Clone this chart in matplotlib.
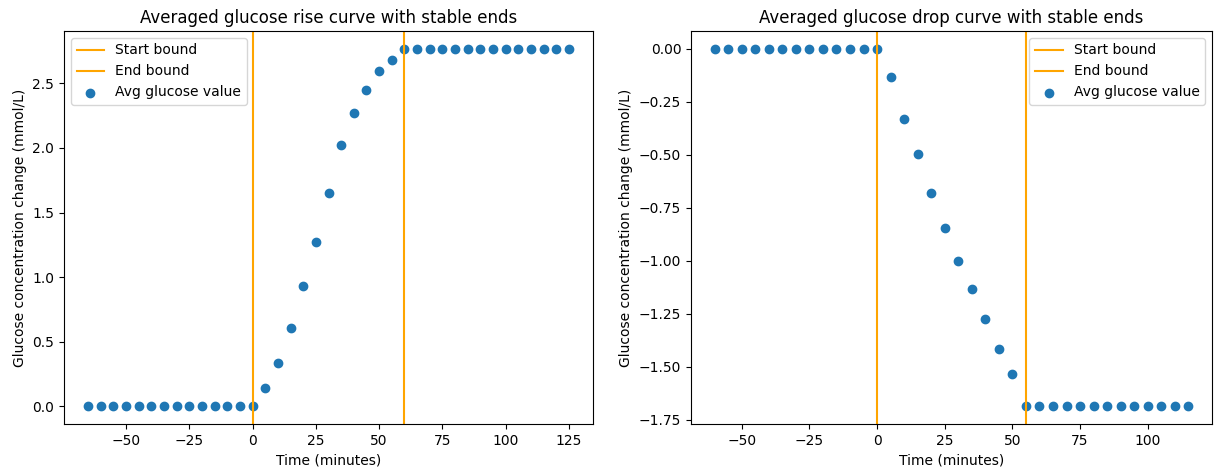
import numpy as np
import matplotlib.pyplot as plt

# rise curve
rise_time = list(range(-65, 130, 5))
rise_values = [0.0] * 14 + [0.137, 0.334, 0.604, 0.934, 1.27, 1.649, 2.027,
                            2.274, 2.446, 2.595, 2.685, 2.768] + [2.768] * 13
rise_start, rise_end = 0, 60

# drop curve
drop_time = list(range(-60, 120, 5))
drop_values = [0.0] * 13 + [-0.131, -0.332, -0.497, -0.682, -0.843, -1.003,
                            -1.132, -1.276, -1.418, -1.533, -1.686] + [-1.686] * 12
drop_start, drop_end = 0, 55

W, H = 1214, 474
fig = plt.figure(figsize=(W / 100, H / 100), dpi=100)
ax1 = fig.add_axes([64 / W, (H - 424) / H, 529 / W, 393 / H])
ax2 = fig.add_axes([691 / W, (H - 424) / H, 521 / W, 393 / H])

panels = [
    (ax1, rise_time, rise_values, rise_start, rise_end,
     'Averaged glucose rise curve with stable ends'),
    (ax2, drop_time, drop_values, drop_start, drop_end,
     'Averaged glucose drop curve with stable ends'),
]

for ax, t, v, s, e, title in panels:
    ax.axvline(s, color='orange', label='Start bound')
    ax.axvline(e, color='orange', label='End bound')
    ax.scatter(t, v, label='Avg glucose value')
    ax.set_title(title)
    ax.set_xlabel('Time (minutes)')
    ax.set_ylabel('Glucose concentration change (mmol/L)')
    ax.legend()

plt.savefig('out.png')
